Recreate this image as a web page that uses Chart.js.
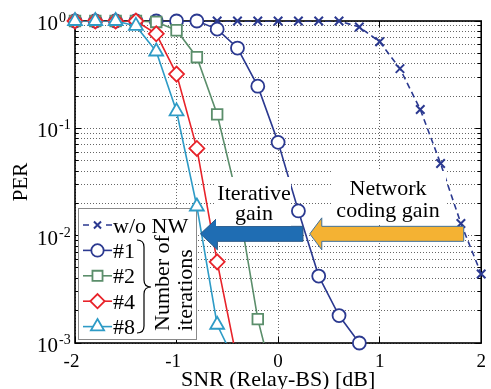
<!DOCTYPE html>
<html><head><meta charset="utf-8">
<script src="https://cdn.jsdelivr.net/npm/chart.js@4.4.1/dist/chart.umd.min.js"></script>
<style>html,body{margin:0;padding:0;background:#fff;overflow:hidden}canvas{display:block}</style>
</head><body>
<canvas id="c" width="491" height="389"></canvas>
<script>
// ---- data ----
const snr = [-2,-1.8,-1.6,-1.4,-1.2,-1.0,-0.8,-0.6,-0.4,-0.2,0,0.2,0.4,0.6,0.8,1.0,1.2,1.4,1.6,1.8,2.0];
const perWoNW  = [1,1,1,1,1,1,1,1,1,1,1,1,1,1,0.88,0.64,0.36,0.15,0.047,0.013,0.0044];
const perIter1 = [1,1,1,1,1,1,1,0.84,0.56,0.247,0.074,0.017,0.0042,0.0018,0.001];
const perIter2 = [1,1,1,1,0.98,0.82,0.46,0.135,0.022,0.00167,0.0003];
const perIter4 = [1,1,1,1,0.76,0.32,0.065,0.0057,0.00066];
const perIter8 = [1,1,1,0.9,0.52,0.144,0.0187,0.00148,0.0006];
const seriesNames = ['w/o NW','#1','#2','#4','#8'];
const xTickValues = [-2,-1,0,1,2];
const yDecades = [-3,-2,-1,0];

// ---- styles ----
const seriesValues = [perWoNW, perIter1, perIter2, perIter4, perIter8];
const seriesColors = ['#2B3990','#2B3990','#5B8E6B','#E8232A','#2E9BC6'];
const seriesMarkers = ['crossRot','circle','rect','rectRot','triangle'];
const markerRadius = [6,6.5,7.5,7.5,8];
const SERIF = '"Liberation Serif"';

const yGridValues = [];
yDecades.slice(0,-1).forEach(d => { for (let m=1;m<=9;m++) yGridValues.push(Number((m*Math.pow(10,d)).toPrecision(2))); });
yGridValues.push(Math.pow(10, yDecades[yDecades.length-1]));

const datasets = seriesValues.map((vals,k)=>({
  label: seriesNames[k],
  data: vals.map((v,i)=>({x:snr[i], y:v})),
  borderColor: seriesColors[k],
  backgroundColor: '#fff',
  pointBackgroundColor: '#fff',
  pointBorderColor: seriesColors[k],
  pointStyle: seriesMarkers[k],
  pointRadius: markerRadius[k],
  pointHoverRadius: markerRadius[k],
  pointBorderWidth: k===0 ? 2 : 1.8,
  borderWidth: 1.6,
  borderDash: k===0 ? [6,4] : [],
  tension: 0,
  order: 5-k,
  clip: false
}));

function marker(ctx, style, r, bw, x, y){
  if (Chart.helpers && Chart.helpers.drawPoint) {
    Chart.helpers.drawPoint(ctx, {pointStyle: style, radius: r, borderWidth: bw, rotation: 0}, x, y);
  }
}

const custom = {
  id: 'custom',
  beforeDatasetsDraw(chart){
    const {ctx, chartArea:a, scales:{x, y}} = chart;
    ctx.save();
    ctx.strokeStyle = '#000';
    ctx.lineWidth = 1;
    yGridValues.forEach(v=>{
      const py = Math.round(y.getPixelForValue(v)-0.5)+0.5;
      const major = Math.abs(Math.log10(v) - Math.round(Math.log10(v))) < 1e-6;
      const len = major ? 6 : 3.5;
      ctx.beginPath();
      ctx.moveTo(a.left, py); ctx.lineTo(a.left+len, py);
      ctx.moveTo(a.right, py); ctx.lineTo(a.right-len, py);
      ctx.stroke();
    });
    xTickValues.forEach(v=>{
      const px = Math.round(x.getPixelForValue(v)-0.5)+0.5;
      ctx.beginPath();
      ctx.moveTo(px, a.bottom); ctx.lineTo(px, a.bottom-6);
      ctx.moveTo(px, a.top); ctx.lineTo(px, a.top+6);
      ctx.stroke();
    });
    ctx.lineWidth = 1.6;
    ctx.strokeRect(a.left, a.top, a.right-a.left, a.bottom-a.top);
    ctx.restore();
    drawLegend(ctx);
  },
  beforeDatasetDraw(chart, args){
    const {ctx, chartArea:a} = chart;
    const meta = args.meta;
    ctx.save();
    ctx.beginPath();
    ctx.rect(a.left, a.top, a.right-a.left, a.bottom-a.top);
    ctx.clip();
    meta.dataset.draw(ctx, a);
    ctx.restore();
    ctx.save();
    meta.data.forEach(el => el.draw(ctx, a));
    ctx.restore();
    return false;
  },
  afterDraw(chart){
    const {ctx, chartArea:a, scales:{x, y}} = chart;
    ctx.save();
    ctx.fillStyle = '#000';
    yDecades.forEach(d=>{
      const py = y.getPixelForValue(Math.pow(10,d));
      ctx.font = '21px '+SERIF;
      ctx.textAlign = 'right'; ctx.textBaseline = 'alphabetic';
      ctx.fillText('10', a.left-17, py+9);
      ctx.font = '14px '+SERIF;
      ctx.textAlign = 'left';
      ctx.fillText(d===0 ? '0' : '-'+Math.abs(d), a.left-16, py+1);
    });
    ctx.font = '19px '+SERIF;
    ctx.textAlign = 'center';
    xTickValues.forEach(v=>{
      const px = x.getPixelForValue(v) - (v<0 ? 3.5 : 0);
      ctx.fillText(String(v), px, a.bottom+24);
    });
    ctx.font = '22px '+SERIF;
    ctx.fillText('SNR (Relay-BS) [dB]', (a.left+a.right)/2, 386);
    ctx.save();
    ctx.translate(27, (a.top+a.bottom)/2);
    ctx.rotate(-Math.PI/2);
    ctx.font = '21px '+SERIF;
    ctx.textAlign = 'center';
    ctx.fillText('PER', 0, 0);
    ctx.restore();

    const ay = y.getPixelForValue(0.0104);
    drawArrow(ctx, x.getPixelForValue(-0.765), x.getPixelForValue(0.245), ay, 17, '#1F6DB3', '#2C5A88');
    drawArrow(ctx, x.getPixelForValue(0.312), x.getPixelForValue(1.828), ay, 12, '#F4B233', '#41719C');

    textBlock(ctx, ['Iterative','gain'], 254, [200,220], [216,177,75,49]);
    textBlock(ctx, ['Network','coding gain'], 388, [195,217], [331,171,115,52]);
    ctx.restore();
  }
};

function drawArrow(ctx, tipX, tailX, cy, headLen, fill, stroke){
  const bh = 7.5, hh = 16;
  ctx.save();
  ctx.beginPath();
  ctx.moveTo(tipX, cy);
  ctx.lineTo(tipX+headLen, cy-hh);
  ctx.lineTo(tipX+headLen, cy-bh);
  ctx.lineTo(tailX, cy-bh);
  ctx.lineTo(tailX, cy+bh);
  ctx.lineTo(tipX+headLen, cy+bh);
  ctx.lineTo(tipX+headLen, cy+hh);
  ctx.closePath();
  ctx.fillStyle = fill; ctx.fill();
  ctx.strokeStyle = stroke; ctx.lineWidth = 1; ctx.stroke();
  ctx.restore();
}

function textBlock(ctx, lines, cx, baselines, box){
  ctx.save();
  ctx.fillStyle = '#fff';
  ctx.fillRect(box[0], box[1], box[2], box[3]);
  ctx.fillStyle = '#000';
  ctx.font = '22px '+SERIF;
  ctx.textAlign = 'center'; ctx.textBaseline = 'alphabetic';
  lines.forEach((t,i)=>ctx.fillText(t, cx, baselines[i]));
  ctx.restore();
}

function drawLegend(ctx){
  const bx = 78, by = 208, bw = 118, bh = 131;
  ctx.save();
  ctx.fillStyle = '#fff';
  ctx.fillRect(bx, by, bw, bh);
  ctx.strokeStyle = '#8a8a8a'; ctx.lineWidth = 1;
  ctx.strokeRect(bx+0.5, by+0.5, bw, bh);
  ctx.font = '22px '+SERIF;
  ctx.textAlign = 'left'; ctx.textBaseline = 'alphabetic';
  seriesNames.forEach((name,k)=>{
    const cy = 225 + k*25.4;
    ctx.strokeStyle = seriesColors[k];
    ctx.lineWidth = 1.6;
    ctx.beginPath();
    if (k===0) { ctx.moveTo(83,cy); ctx.lineTo(89,cy); ctx.moveTo(106,cy); ctx.lineTo(112,cy); }
    else { ctx.moveTo(83,cy); ctx.lineTo(112,cy); }
    ctx.stroke();
    ctx.fillStyle = '#fff';
    ctx.lineWidth = k===0 ? 2 : 1.8;
    marker(ctx, seriesMarkers[k], k===0 ? 5 : markerRadius[k]*0.95, ctx.lineWidth, 97.5, cy);
    ctx.fillStyle = '#000';
    ctx.fillText(name, 113, cy+7.5);
  });
  ctx.strokeStyle = '#000'; ctx.lineWidth = 1.2;
  ctx.beginPath();
  ctx.moveTo(137,240);
  ctx.quadraticCurveTo(144,240,144,247);
  ctx.lineTo(144,280);
  ctx.quadraticCurveTo(144,287,151,287);
  ctx.quadraticCurveTo(144,287,144,294);
  ctx.lineTo(144,326);
  ctx.quadraticCurveTo(144,333,137,333);
  ctx.stroke();
  ctx.fillStyle = '#000';
  ctx.font = '22px '+SERIF;
  [['Number of',169],['iterations',192]].forEach(([t,bx2])=>{
    ctx.save();
    ctx.translate(bx2, 331);
    ctx.rotate(-Math.PI/2);
    ctx.textAlign = 'left';
    ctx.fillText(t, 0, 0);
    ctx.restore();
  });
  ctx.restore();
}

new Chart(document.getElementById('c'), {
  type: 'line',
  data: { datasets },
  options: {
    responsive: false,
    devicePixelRatio: 1,
    animation: false,
    events: [],
    layout: { padding: {left:75, right:1, top:21, bottom:46} },
    plugins: { legend: {display:false}, tooltip: {enabled:false} },
    scales: {
      x: {
        type: 'linear', min: -2, max: 2,
        afterBuildTicks: s => { s.ticks = xTickValues.map(v=>({value:v})); },
        ticks: { display: false },
        grid: { color: '#666', lineWidth: 1, drawTicks: false },
        border: { display: false, dash: [1,2] }
      },
      y: {
        type: 'logarithmic', min: 0.001, max: 1,
        afterBuildTicks: s => { s.ticks = yGridValues.map(v=>({value:v})); },
        ticks: { display: false },
        grid: { color: '#666', lineWidth: 1, drawTicks: false },
        border: { display: false, dash: [1,2] }
      }
    }
  },
  plugins: [custom]
});
</script>
</body></html>
